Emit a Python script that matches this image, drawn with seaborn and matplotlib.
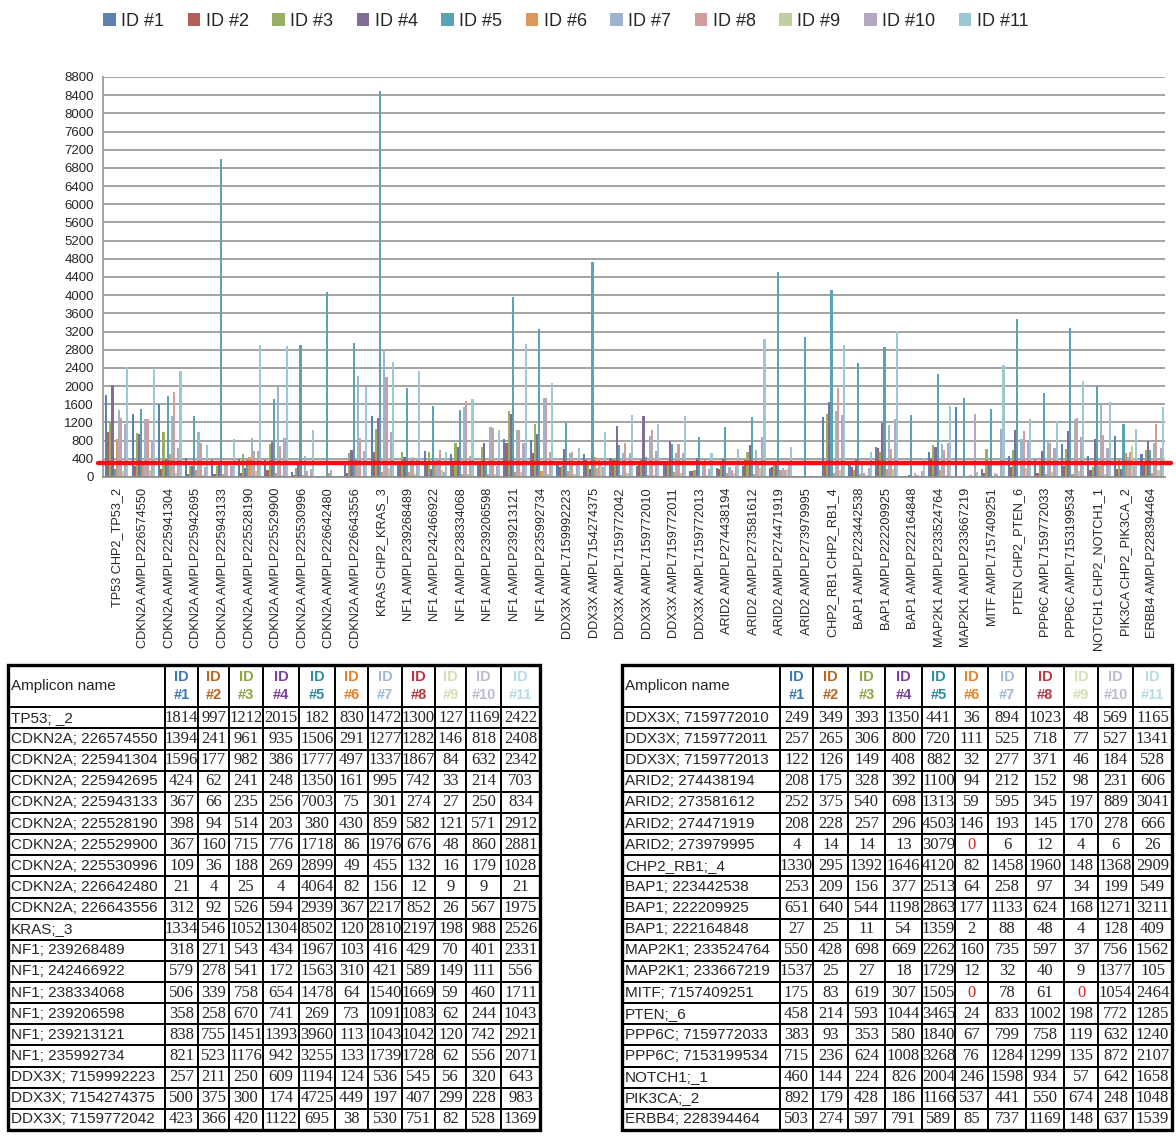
import matplotlib
matplotlib.use("Agg")
import matplotlib.pyplot as plt
from matplotlib.table import Table
from matplotlib.patches import Rectangle
import seaborn as sns
import pandas as pd
import numpy as np

# ---- data -------------------------------------------------------------
sample_ids = [f"ID #{i}" for i in range(1, 12)]

table_names = [
    "TP53; _2", "CDKN2A; 226574550", "CDKN2A; 225941304", "CDKN2A; 225942695",
    "CDKN2A; 225943133", "CDKN2A; 225528190", "CDKN2A; 225529900", "CDKN2A; 225530996",
    "CDKN2A; 226642480", "CDKN2A; 226643556", "KRAS;_3", "NF1; 239268489",
    "NF1; 242466922", "NF1; 238334068", "NF1; 239206598", "NF1; 239213121",
    "NF1; 235992734", "DDX3X; 7159992223", "DDX3X; 7154274375", "DDX3X; 7159772042",
    "DDX3X; 7159772010", "DDX3X; 7159772011", "DDX3X; 7159772013", "ARID2; 274438194",
    "ARID2; 273581612", "ARID2; 274471919", "ARID2; 273979995", "CHP2_RB1;_4",
    "BAP1; 223442538", "BAP1; 222209925", "BAP1; 222164848", "MAP2K1; 233524764",
    "MAP2K1; 233667219", "MITF; 7157409251", "PTEN;_6", "PPP6C; 7159772033",
    "PPP6C; 7153199534", "NOTCH1;_1", "PIK3CA;_2", "ERBB4; 228394464",
]

axis_labels = [
    "TP53 CHP2_TP53_2", "CDKN2A AMPLP226574550", "CDKN2A AMPLP225941304",
    "CDKN2A AMPLP225942695", "CDKN2A AMPLP225943133", "CDKN2A AMPLP225528190",
    "CDKN2A AMPLP225529900", "CDKN2A AMPLP225530996", "CDKN2A AMPLP226642480",
    "CDKN2A AMPLP226643556", "KRAS CHP2_KRAS_3", "NF1 AMPLP239268489",
    "NF1 AMPLP242466922", "NF1 AMPLP238334068", "NF1 AMPLP239206598",
    "NF1 AMPLP239213121", "NF1 AMPLP235992734", "DDX3X AMPL7159992223",
    "DDX3X AMPL7154274375", "DDX3X AMPL7159772042", "DDX3X AMPL7159772010",
    "DDX3X AMPL7159772011", "DDX3X AMPL7159772013", "ARID2 AMPLP274438194",
    "ARID2 AMPLP273581612", "ARID2 AMPLP274471919", "ARID2 AMPLP273979995",
    "CHP2_RB1 CHP2_RB1_4", "BAP1 AMPLP223442538", "BAP1 AMPLP222209925",
    "BAP1 AMPLP222164848", "MAP2K1 AMPLP233524764", "MAP2K1 AMPLP233667219",
    "MITF AMPL7157409251", "PTEN CHP2_PTEN_6", "PPP6C AMPL7159772033",
    "PPP6C AMPL7153199534", "NOTCH1 CHP2_NOTCH1_1", "PIK3CA CHP2_PIK3CA_2",
    "ERBB4 AMPLP228394464",
]

id1 = [1814, 1394, 1596, 424, 367, 398, 367, 109, 21, 312, 1334, 318, 579, 506, 358, 838, 821, 257, 500, 423,
       249, 257, 122, 208, 252, 208, 4, 1330, 253, 651, 27, 550, 1537, 175, 458, 383, 715, 460, 892, 503]
id2 = [997, 241, 177, 62, 66, 94, 160, 36, 4, 92, 546, 271, 278, 339, 258, 755, 523, 211, 375, 366,
       349, 265, 126, 175, 375, 228, 14, 295, 209, 640, 25, 428, 25, 83, 214, 93, 236, 144, 179, 274]
id3 = [1212, 961, 982, 241, 235, 514, 715, 188, 25, 526, 1052, 543, 541, 758, 670, 1451, 1176, 250, 300, 420,
       393, 306, 149, 328, 540, 257, 14, 1392, 156, 544, 11, 698, 27, 619, 593, 353, 624, 224, 428, 597]
id4 = [2015, 935, 386, 248, 256, 203, 776, 269, 4, 594, 1304, 434, 172, 654, 741, 1393, 942, 609, 174, 1122,
       1350, 800, 408, 392, 698, 296, 13, 1646, 377, 1198, 54, 669, 18, 307, 1044, 580, 1008, 826, 186, 791]
id5 = [182, 1506, 1777, 1350, 7003, 380, 1718, 2899, 4064, 2939, 8502, 1967, 1563, 1478, 269, 3960, 3255, 1194, 4725, 695,
       441, 720, 882, 1100, 1313, 4503, 3079, 4120, 2513, 2863, 1359, 2262, 1729, 1505, 3465, 1840, 3268, 2004, 1166, 589]
id6 = [830, 291, 497, 161, 75, 430, 86, 49, 82, 367, 120, 103, 310, 64, 73, 113, 133, 124, 449, 38,
       36, 111, 32, 94, 59, 146, 0, 82, 64, 177, 2, 160, 12, 0, 24, 67, 76, 246, 537, 85]
id7 = [1472, 1277, 1337, 995, 301, 859, 1976, 455, 156, 2217, 2810, 416, 421, 1540, 1091, 1043, 1739, 536, 197, 530,
       894, 525, 277, 212, 595, 193, 6, 1458, 258, 1133, 88, 735, 32, 78, 833, 799, 1284, 1598, 441, 737]
id8 = [1300, 1282, 1867, 742, 274, 582, 676, 132, 12, 852, 2197, 429, 589, 1669, 1083, 1042, 1728, 545, 407, 751,
       1023, 718, 371, 152, 345, 145, 12, 1960, 97, 624, 48, 597, 40, 61, 1002, 758, 1299, 934, 550, 1169]
id9 = [127, 146, 84, 33, 27, 121, 48, 16, 9, 26, 198, 70, 149, 59, 62, 120, 62, 56, 299, 82,
       48, 77, 46, 98, 197, 170, 4, 148, 34, 168, 4, 37, 9, 0, 198, 119, 135, 57, 674, 148]
id10 = [1169, 818, 632, 214, 250, 571, 860, 179, 9, 567, 988, 401, 111, 460, 244, 742, 556, 320, 228, 528,
        569, 527, 184, 231, 889, 278, 6, 1368, 199, 1271, 128, 756, 1377, 1054, 772, 632, 872, 642, 248, 637]
id11 = [2422, 2408, 2342, 703, 834, 2912, 2881, 1028, 21, 1975, 2526, 2331, 556, 1711, 1043, 2921, 2071, 643, 983, 1369,
        1165, 1341, 528, 606, 3041, 666, 26, 2909, 549, 3211, 409, 1562, 105, 2464, 1285, 1240, 2107, 1658, 1048, 1539]

threshold = 300

bar_colors = ["#4F81BD", "#C0504D", "#9BBB59", "#8064A2", "#4BACC6", "#F79646",
              "#95B3D7", "#D99694", "#C3D69B", "#B3A2C7", "#93CDDD"]
header_colors = ["#3B78B5", "#B8651F", "#8AA543", "#7B3F9E", "#2F8C9F", "#E8822A",
                 "#9DBADB", "#B8383F", "#D3E0B2", "#C0B8D0", "#B3DCE8"]

# ---- long frame -------------------------------------------------------
series = [id1, id2, id3, id4, id5, id6, id7, id8, id9, id10, id11]
df = pd.DataFrame({
    "amplicon": np.tile(axis_labels, len(sample_ids)),
    "sample": np.repeat(sample_ids, len(axis_labels)),
    "reads": np.concatenate(series),
})

sns.set_style("white")
plt.rcParams["font.family"] = ["Liberation Sans", "DejaVu Sans"]

fig = plt.figure(figsize=(11.76, 11.37), dpi=100)
ax = fig.add_axes([0.088, 0.5805, 0.903, 0.3518])

sns.barplot(data=df, x="amplicon", y="reads", hue="sample", palette=bar_colors,
            order=axis_labels, hue_order=sample_ids, width=0.88, linewidth=0,
            errorbar=None, ax=ax)

handles, labels = ax.get_legend_handles_labels()
ax.get_legend().remove()
fig.legend(handles, labels, loc="center", bbox_to_anchor=(0.481, 0.981), ncol=11,
           frameon=False, prop={"family": "Liberation Sans", "size": 13},
           handlelength=0.7, handleheight=0.7, handletextpad=0.3, columnspacing=1.3)

ax.axhline(threshold, color="#EE1111", linewidth=3.2, zorder=5, xmin=-0.005, xmax=1.005, clip_on=False)

ax.set_ylim(0, 8800)
ax.set_yticks(np.arange(0, 8801, 400))
ax.set_xlim(-0.5, len(axis_labels) - 0.5)
ax.yaxis.grid(True, color="#A3A3A3", linewidth=1.4)
ax.set_axisbelow(True)
ax.set_xlabel("")
ax.set_ylabel("")
ax.set_xticks(range(len(axis_labels)))
ax.set_xticklabels(axis_labels, rotation=90, fontsize=9.2, va="top", ha="center")
ax.set_xticks(np.arange(-0.5, len(axis_labels), 1), minor=True)
ax.tick_params(axis="x", which="major", length=0, pad=8)
ax.tick_params(axis="x", which="minor", length=5, color="#8C8C8C", width=0.9)
ax.tick_params(axis="y", length=4, color="#A3A3A3", width=1.2, labelsize=9.5, pad=3)
for side in ["top", "right"]:
    ax.spines[side].set_visible(False)
ax.spines["left"].set_color("#A3A3A3")
ax.spines["left"].set_linewidth(1.4)
ax.spines["bottom"].set_color("#8C8C8C")
ax.spines["bottom"].set_linewidth(1.2)


# ---- tables -----------------------------------------------------------
def draw_table(tax, rows, col_widths):
    tax.set_axis_off()
    tb = Table(tax, bbox=[0, 0, 1, 1])
    tb.auto_set_font_size(False)
    total = float(sum(col_widths))
    ws = [w / total for w in col_widths]
    header_h, row_h = 2.0, 1.0

    c = tb.add_cell(0, 0, ws[0], header_h, text="Amplicon name", loc="left")
    c.PAD = 0.02
    c.get_text().set_fontsize(11)
    for j, sid in enumerate(sample_ids):
        c = tb.add_cell(0, j + 1, ws[j + 1], header_h, text=sid.replace(" ", "\n"), loc="center")
        t = c.get_text()
        t.set_color(header_colors[j])
        t.set_fontweight("bold")
        t.set_fontsize(10.5)
        t.set_linespacing(1.3)

    for i, r in enumerate(rows, start=1):
        c = tb.add_cell(i, 0, ws[0], row_h, text=table_names[r], loc="left")
        c.PAD = 0.02
        c.get_text().set_fontsize(11)
        for j, s in enumerate(series):
            v = s[r]
            c = tb.add_cell(i, j + 1, ws[j + 1], row_h, text=str(v), loc="center")
            t = c.get_text()
            t.set_fontfamily("Liberation Serif")
            t.set_fontsize(12)
            if v == 0:
                t.set_color("#D62020")

    for cell in tb.get_celld().values():
        cell.set_edgecolor("black")
        cell.set_linewidth(1.4)
    tax.add_table(tb)
    tax.add_patch(Rectangle((0, 0), 1, 1, transform=tax.transAxes, fill=False,
                            edgecolor="black", linewidth=2.4, clip_on=False))


left_rows = list(range(0, 20))
right_rows = list(range(20, 40))

tax1 = fig.add_axes([8 / 1176, 7 / 1137, 532 / 1176, 465 / 1137])
draw_table(tax1, left_rows, [157, 33, 31, 34, 36, 36, 33, 34, 33, 31, 35, 39])

tax2 = fig.add_axes([622 / 1176, 7 / 1137, 550 / 1176, 465 / 1137])
draw_table(tax2, right_rows, [158, 33, 35, 37, 37, 33, 33, 38, 38, 34, 35, 39])

fig.savefig("out.png", dpi=100)
